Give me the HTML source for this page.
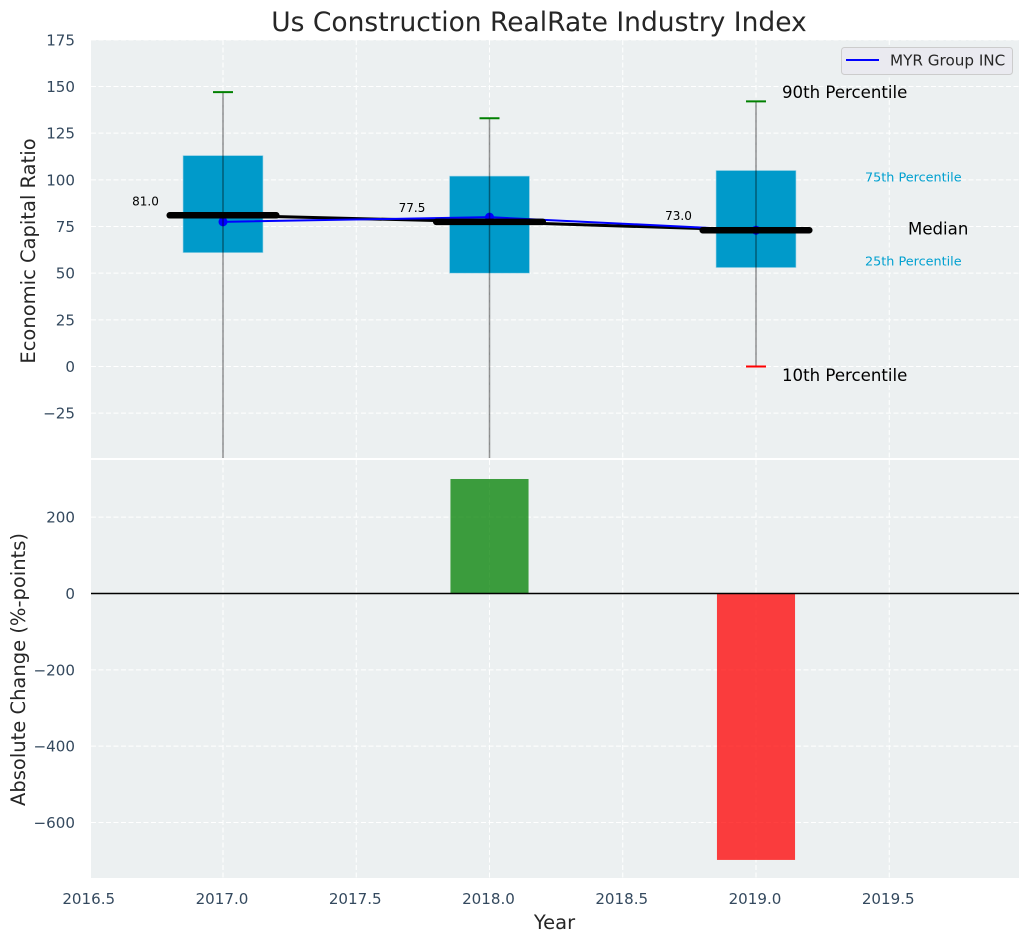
<!DOCTYPE html>
<html lang="en">
<head>
<meta charset="utf-8">
<title>Us Construction RealRate Industry Index</title>
<style>
html,body{margin:0;padding:0;background:#fff;width:1029px;height:942px;overflow:hidden}
svg{display:block;font-family:"DejaVu Sans","Liberation Sans",sans-serif}
</style>
</head>
<body>
<svg id="chart" xmlns="http://www.w3.org/2000/svg" width="1029" height="942" viewBox="0 0 1029 942">
  <defs>
    <clipPath id="clip-top"><rect x="91" y="40" width="928" height="418"/></clipPath>
    <clipPath id="clip-bottom"><rect x="91" y="460" width="928" height="418"/></clipPath>
  </defs>
  <rect x="91" y="40" width="928" height="418" fill="#ecf0f1"/>
  <rect x="91" y="460" width="928" height="418" fill="#ecf0f1"/>
  <g id="grid-top" clip-path="url(#clip-top)"></g>
  <g id="grid-bottom" clip-path="url(#clip-bottom)"></g>
  <g id="marks-top" clip-path="url(#clip-top)"></g>
  <g id="marks-bottom" clip-path="url(#clip-bottom)"></g>
  <g id="ticks" font-size="15.1" fill="#34495e"></g>
  <g id="notes"></g>
  <text x="539" y="31" text-anchor="middle" font-size="26.5" fill="#262626">Us Construction RealRate Industry Index</text>
  <text transform="translate(35 251) rotate(-90)" text-anchor="middle" font-size="19.5" fill="#262626">Economic Capital Ratio</text>
  <text transform="translate(25 669.5) rotate(-90)" text-anchor="middle" font-size="19.5" fill="#262626">Absolute Change (%-points)</text>
  <text x="554.5" y="929" text-anchor="middle" font-size="19.5" fill="#262626">Year</text>
  <g>
    <rect x="841.5" y="47.5" width="171" height="27" rx="3" fill="#eaeaf0" stroke="#cccccc" stroke-width="1"/>
    <line x1="846" y1="60" x2="879" y2="60" stroke="#0000ff" stroke-width="2"/>
    <text x="890" y="65.5" font-size="15.2" fill="#262626">MYR Group INC</text>
  </g>
</svg>
<script>
const years = [2017, 2018, 2019];
const p90 = [147, 133, 142];
const p75 = [113, 102, 105];
const medians = [81, 77.5, 73];
const p25 = [61, 50, 53];
const p10 = [-60, -60, 0];
const company = [77.5, 80, 73];
const changes = [0, 300, -698];
const medianLabels = ['81.0', '77.5', '73.0'];
const xTicks = [2016.5, 2017, 2017.5, 2018, 2018.5, 2019, 2019.5];
const xTickLabels = ['2016.5', '2017.0', '2017.5', '2018.0', '2018.5', '2019.0', '2019.5'];
const yTicksTop = [175, 150, 125, 100, 75, 50, 25, 0, -25];
const yTicksBottom = [200, 0, -200, -400, -600];

const NS = 'http://www.w3.org/2000/svg';
const x = v => 223 + (v - 2017) * 266.5;
const yTop = v => 366.5 - v * 1.8667;
const yBot = v => 593.5 - v * 0.3817;
const boxW = 0.3, barW = 0.293, medW = 0.4, capW = 0.075;

function make(parent, tag, attrs, text) {
  const el = document.createElementNS(NS, tag);
  for (const k in attrs) el.setAttribute(k, attrs[k]);
  if (text !== undefined) el.textContent = text;
  parent.appendChild(el);
  return el;
}
const gridTop = document.getElementById('grid-top');
const gridBottom = document.getElementById('grid-bottom');
const marksTop = document.getElementById('marks-top');
const marksBottom = document.getElementById('marks-bottom');
const ticks = document.getElementById('ticks');
const notes = document.getElementById('notes');
const dash = {stroke: '#ffffff', 'stroke-width': 1, 'stroke-dasharray': '5 2.5'};

xTicks.forEach((t, i) => {
  const a = make(gridTop, 'line', Object.assign({x1: x(t), x2: x(t), y1: 40, y2: 458}, dash));
  
  
  const b = make(gridBottom, 'line', Object.assign({x1: x(t), x2: x(t), y1: 460, y2: 878}, dash));
  
  
  const l = make(ticks, 'text', {x: x(t) - 1, y: 904, 'text-anchor': 'middle'}, xTickLabels[i]);
  
  
});
yTicksTop.forEach(t => {
  const g = make(gridTop, 'line', Object.assign({x1: 91, x2: 1019, y1: yTop(t), y2: yTop(t)}, dash));
  
  
  const l = make(ticks, 'text', {x: 75, y: yTop(t) + 5.5, 'text-anchor': 'end'}, String(t).replace('-', '\u2212'));
  
  
});
yTicksBottom.forEach(t => {
  const g = make(gridBottom, 'line', Object.assign({x1: 91, x2: 1019, y1: yBot(t), y2: yBot(t)}, dash));
  
  
  const l = make(ticks, 'text', {x: 75, y: yBot(t) + 5.5, 'text-anchor': 'end'}, String(t).replace('-', '\u2212'));
  
  
});

years.forEach((yr, i) => {
  const box = make(marksTop, 'rect', {x: x(yr - boxW / 2), width: x(yr + boxW / 2) - x(yr - boxW / 2), y: yTop(p75[i]), height: yTop(p25[i]) - yTop(p75[i]), fill: '#009aca', stroke: '#9fd4e6', 'stroke-width': 0.6});
  
  
});

const medLine = make(marksTop, 'polyline', {points: years.map((yr, i) => x(yr) + ',' + yTop(medians[i])).join(' '), fill: 'none', stroke: '#000000', 'stroke-width': 3});



const coLine = make(marksTop, 'polyline', {points: years.map((yr, i) => x(yr) + ',' + yTop(company[i])).join(' '), fill: 'none', stroke: '#0000ff', 'stroke-width': 2});



years.forEach((yr, i) => {
  const dot = make(marksTop, 'circle', {cx: x(yr), cy: yTop(company[i]), r: 4.5, fill: '#0000ff'});
  
  
  const med = make(marksTop, 'line', {x1: x(yr - medW / 2), x2: x(yr + medW / 2), y1: yTop(medians[i]), y2: yTop(medians[i]), stroke: '#000000', 'stroke-width': 6.5, 'stroke-linecap': 'round'});
  
  
  const wh = make(marksTop, 'line', {x1: x(yr), x2: x(yr), y1: yTop(p90[i]), y2: yTop(p10[i]), stroke: '#000000', 'stroke-opacity': 0.42, 'stroke-width': 1.5});
  
  
  const capHi = make(marksTop, 'line', {x1: x(yr - capW / 2), x2: x(yr + capW / 2), y1: yTop(p90[i]), y2: yTop(p90[i]), stroke: '#008000', 'stroke-width': 2});
  
  
  const capLo = make(marksTop, 'line', {x1: x(yr - capW / 2), x2: x(yr + capW / 2), y1: yTop(p10[i]), y2: yTop(p10[i]), stroke: '#ff0000', 'stroke-width': 2});
  
  
  const lab = make(notes, 'text', {x: x(yr) - 77.5, y: yTop(medians[i]) - 10, 'font-size': 12, 'text-anchor': 'middle', fill: '#000000'}, medianLabels[i]);
  
  
  if (changes[i] !== 0) {
    const top = Math.min(yBot(changes[i]), yBot(0));
    const h = Math.abs(yBot(changes[i]) - yBot(0));
    const bar = make(marksBottom, 'rect', {x: x(yr - barW / 2), width: x(yr + barW / 2) - x(yr - barW / 2), y: top, height: h, fill: changes[i] > 0 ? '#008000' : '#ff0000', 'fill-opacity': 0.75});
    
    
  }
});

const zero = make(marksBottom, 'line', {x1: 91, x2: 1019, y1: yBot(0), y2: yBot(0), stroke: '#000000', 'stroke-width': 1.4});



const last = years.length - 1;
const n90 = make(notes, 'text', {x: x(years[last]) + 26, y: yTop(p90[last]) - 3.5, 'font-size': 16.6, fill: '#000000'}, '90th Percentile');


const n10 = make(notes, 'text', {x: x(years[last]) + 26, y: yTop(p10[last]) + 14.5, 'font-size': 16.6, fill: '#000000'}, '10th Percentile');


const n50 = make(notes, 'text', {x: x(years[last]) + 152, y: yTop(medians[last]) + 4.5, 'font-size': 16.6, fill: '#000000'}, 'Median');


const n75 = make(notes, 'text', {x: x(years[last]) + 109, y: yTop(p75[last]) + 11, 'font-size': 12.8, fill: '#00a0d0'}, '75th Percentile');


const n25 = make(notes, 'text', {x: x(years[last]) + 109, y: yTop(p25[last]) - 2, 'font-size': 12.8, fill: '#00a0d0'}, '25th Percentile');


</script>
</body>
</html>
